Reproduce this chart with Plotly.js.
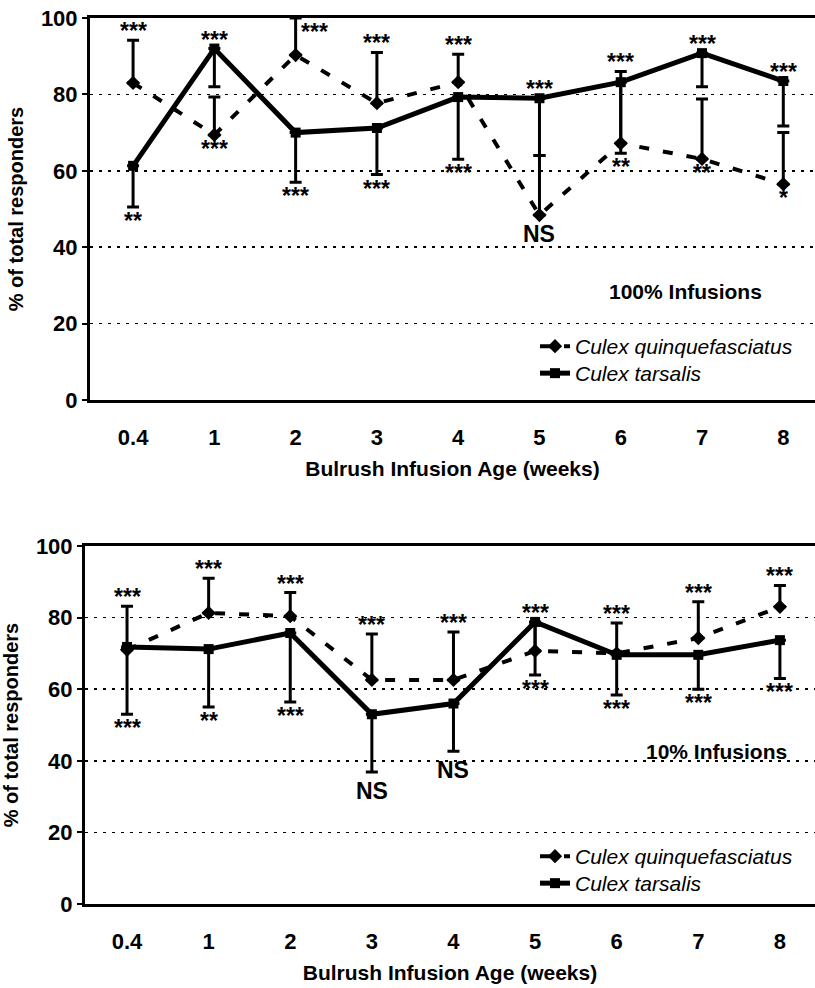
<!DOCTYPE html>
<html>
<head>
<meta charset="utf-8">
<script src="https://cdn.plot.ly/plotly-3.0.1.min.js"></script>
<style>html,body{margin:0;padding:0;background:#fff;}#chart{width:815px;height:988px;}</style>
</head>
<body>
<div id="chart"></div>
<script>
// ---------- data ----------
const categories = ['0.4', '1', '2', '3', '4', '5', '6', '7', '8'];
const yTicks = [0, 20, 40, 60, 80, 100];

// 100% infusions (top panel)
const topQuinque      = [83, 69.4, 90.3, 77.7, 83.2, 48.4, 67.2, 63.1, 56.5];
const topQuinqueHigh  = [94.2, 79.3, 100, 91, 90.5, 64, 86, 78.8, 70];
const topTarsalis     = [61.3, 92, 70, 71.2, 79.3, 79, 83.2, 90.8, 83.5];
const topTarsalisLow  = [50.5, 82, 57, 59, 63, 64, 64.6, 82, 71.7];
const topSigAbove     = ['***', '***', '***', '***', '***', '***', '***', '***', '***'];
const topSigBelow     = ['**', '***', '***', '***', '***', 'NS', '**', '**', '*'];

// 10% infusions (bottom panel)
const botQuinque      = [71, 81.3, 80.4, 62.6, 62.6, 70.7, 70, 74.3, 83];
const botQuinqueHigh  = [83.2, 91, 87, 75.4, 76, 78, 78.5, 84.4, 89];
const botTarsalis     = [71.8, 71.2, 75.7, 53, 56, 78.8, 69.6, 69.6, 73.7];
const botTarsalisLow  = [53, 55, 56.4, 36.9, 42.7, 64, 58.4, 60, 63];
const botSigAbove     = ['***', '***', '***', '***', '***', '***', '***', '***', '***'];
const botSigBelow     = ['***', '**', '***', 'NS', 'NS', '***', '***', '***', '***'];

const seriesNames = ['<i>Culex quinquefasciatus</i>', '<i>Culex tarsalis</i>'];
const panelLabels = ['100% Infusions', '10% Infusions'];
const xTitle = 'Bulrush Infusion Age (weeks)';
const yTitle = '% of total responders';

// ---------- helpers ----------
const FONT = 'Liberation Sans, Arial, Helvetica, sans-serif';
const diff = (a, b) => a.map((v, i) => Math.abs(v - b[i]));
const zeros = n => new Array(n).fill(0);

function quinqueTrace(vals, high, xa, ya, leg) {
  return {
    type: 'scatter', mode: 'lines+markers', name: seriesNames[0],
    x: categories, y: vals, xaxis: xa, yaxis: ya, legend: leg,
    line: {color: 'black', width: 4, dash: '10px,14px'},
    marker: {symbol: 'diamond', size: 11, color: 'black'},
    error_y: {type: 'data', symmetric: false, array: diff(high, vals), arrayminus: zeros(vals.length),
              color: 'black', thickness: 3, width: 6}
  };
}
function tarsalisTrace(vals, low, xa, ya, leg) {
  return {
    type: 'scatter', mode: 'lines+markers', name: seriesNames[1],
    x: categories, y: vals, xaxis: xa, yaxis: ya, legend: leg,
    line: {color: 'black', width: 5},
    marker: {symbol: 'square', size: 10, color: 'black'},
    error_y: {type: 'data', symmetric: false, array: zeros(vals.length), arrayminus: diff(vals, low),
              color: 'black', thickness: 3, width: 6}
  };
}

const traces = [
  quinqueTrace(topQuinque, topQuinqueHigh, 'x', 'y', 'legend'),
  tarsalisTrace(topTarsalis, topTarsalisLow, 'x', 'y', 'legend2'),
  quinqueTrace(botQuinque, botQuinqueHigh, 'x2', 'y2', 'legend3'),
  tarsalisTrace(botTarsalis, botTarsalisLow, 'x2', 'y2', 'legend4')
];

// significance annotations placed from the error-bar ends (x given as category index)
function sigAnnotations(q, qHigh, t, tLow, above, below, xr, yr) {
  const out = [];
  categories.forEach((c, i) => {
    const top = Math.max(qHigh[i], t[i], q[i]);
    const bot = Math.min(tLow[i], q[i], t[i]);
    const starFont = {family: FONT, size: 23, weight: 'bold', color: 'black'};
    if (top >= 99) {
      out.push({x: i, y: top, xref: xr, yref: yr, text: above[i], showarrow: false,
                xanchor: 'left', yanchor: 'top', xshift: 3, yshift: 1, font: starFont});
    } else {
      out.push({x: i, y: top, xref: xr, yref: yr, text: above[i], showarrow: false,
                xanchor: 'center', yanchor: 'bottom', yshift: -6, font: starFont});
    }
    const isNS = below[i] === 'NS';
    out.push({x: i, y: bot, xref: xr, yref: yr, text: below[i], showarrow: false,
              xanchor: 'center', yanchor: 'top', yshift: isNS ? -4 : 1,
              font: isNS ? {family: FONT, size: 23, weight: 'bold', color: 'black'} : starFont});
  });
  return out;
}

const labelFont = {family: FONT, size: 21, weight: 'bold', color: 'black'};
const annotations = [
  ...sigAnnotations(topQuinque, topQuinqueHigh, topTarsalis, topTarsalisLow, topSigAbove, topSigBelow, 'x', 'y'),
  ...sigAnnotations(botQuinque, botQuinqueHigh, botTarsalis, botTarsalisLow, botSigAbove, botSigBelow, 'x2', 'y2'),
  {x: 6.8, y: 28.5, xref: 'x', yref: 'y', text: panelLabels[0], showarrow: false, font: labelFont},
  {x: 7.22, y: 42.5, xref: 'x2', yref: 'y2', text: panelLabels[1], showarrow: false, font: labelFont}
];

function xAxis(domainLeft, yref, range) {
  return {
    domain: [domainLeft, 1], anchor: yref, type: 'category', range: range,
    showline: true, linewidth: 3, linecolor: 'black', mirror: true,
    showgrid: false, zeroline: false,
    ticks: 'outside', ticklen: 16, tickcolor: 'rgba(0,0,0,0)',
    tickfont: {family: FONT, size: 22, weight: 'bold', color: 'black'},
    title: {text: xTitle, standoff: 12, font: {family: FONT, size: 21, weight: 'bold', color: 'black'}},
    automargin: false, fixedrange: true
  };
}
function yAxis(domain, xref) {
  return {
    domain: domain, anchor: xref, range: [0, 100], tickvals: yTicks,
    showline: true, linewidth: 3, linecolor: 'black', mirror: false,
    showgrid: true, gridcolor: 'black', gridwidth: 1.6, griddash: '3px,6px',
    zeroline: false,
    ticks: 'outside', ticklen: 5, tickwidth: 2, tickcolor: 'black',
    tickfont: {family: FONT, size: 22, weight: 'bold', color: 'black'},
    title: {text: yTitle, standoff: 12, font: {family: FONT, size: 20, weight: 'bold', color: 'black'}},
    automargin: false, fixedrange: true
  };
}

function legendAt(centerPx) {
  return {x: 535 / W, y: 1 - (centerPx - 20) / H, xanchor: 'left', yanchor: 'top',
          bgcolor: 'rgba(0,0,0,0)', borderwidth: 0,
          font: {family: FONT, size: 21, color: 'black'}};
}

const H = 988, W = 815;
const layout = {
  width: W, height: H,
  margin: {l: 0, r: 0, t: 0, b: 0},
  paper_bgcolor: 'white', plot_bgcolor: 'white',
  font: {family: FONT, color: 'black'},
  showlegend: true,
  xaxis: xAxis(90 / W, 'y', [-0.53, 8.39]),
  yaxis: yAxis([1 - 400 / H, 1 - 18 / H], 'x'),
  xaxis2: xAxis(85 / W, 'y2', [-0.515, 8.43]),
  yaxis2: yAxis([1 - 904 / H, 1 - 546 / H], 'x2'),
  legend: legendAt(346),
  legend2: legendAt(373),
  legend3: legendAt(856),
  legend4: legendAt(883),
  annotations: annotations
};

Plotly.newPlot('chart', traces, layout, {displayModeBar: false, staticPlot: true});
</script>
</body>
</html>
